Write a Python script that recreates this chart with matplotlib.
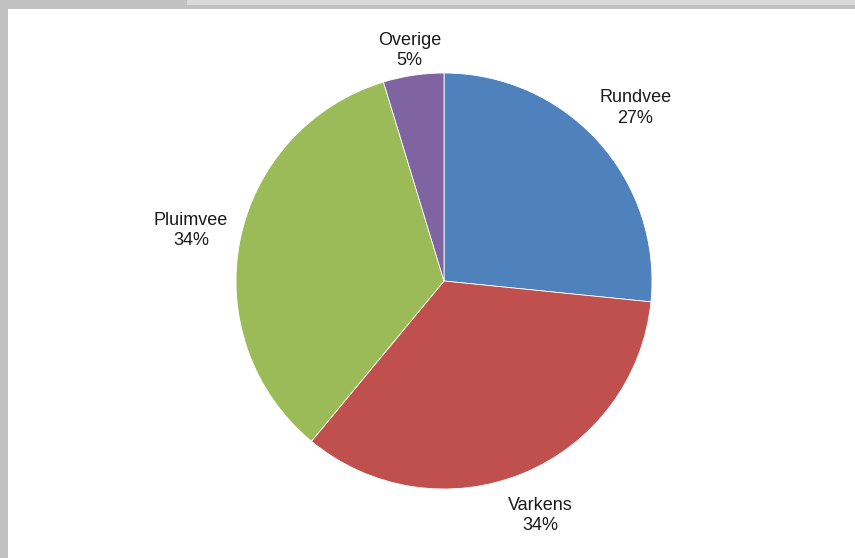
"""
Taartdiagram: verdeling naar diergroep
"""
import matplotlib.pyplot as plt
import numpy as np
from matplotlib.patches import Rectangle

# data
categories = ["Rundvee", "Varkens", "Pluimvee", "Overige"]
shares = [26.6, 34.4, 34.3, 4.7]
pct_labels = ["27%", "34%", "34%", "5%"]
colors = ["#4F81BD", "#C0504D", "#9BBB59", "#8064A2"]

# afstand van de labels tot het midden (in straal)
label_dist = [1.24, 1.22, 1.24, 1.12]

plt.rcParams["font.family"] = ["Liberation Sans Narrow", "Liberation Sans", "DejaVu Sans"]

fig = plt.figure(figsize=(8.55, 5.58), dpi=100)
fig.patch.set_facecolor("#c0c0c0")

# witte tekenvlak en (afgesneden) titelbalk bovenaan
fig.patches.append(Rectangle((8 / 855, 0), 1, 1 - 9 / 558, transform=fig.transFigure,
                             facecolor="white", edgecolor="none", zorder=0))
fig.patches.append(Rectangle((187 / 855, 1 - 5 / 558), 1, 5 / 558, transform=fig.transFigure,
                             facecolor="#d9d9d9", edgecolor="none", zorder=0))

# pie: midden (444, 281), straal 208 px
r = 208
ax = fig.add_axes([(444 - r) / 855, 1 - (281 + r) / 558, 2 * r / 855, 2 * r / 558])
ax.set_zorder(2)
wedges, _ = ax.pie(shares, colors=colors, startangle=90, counterclock=False,
                   wedgeprops=dict(edgecolor="white", linewidth=0.6))
ax.set_xlim(-1, 1)
ax.set_ylim(-1, 1)
ax.set_aspect("equal")

for w, name, pct, d in zip(wedges, categories, pct_labels, label_dist):
    mid = np.deg2rad((w.theta1 + w.theta2) / 2)
    ax.text(d * np.cos(mid), d * np.sin(mid), f"{name}\n{pct}", ha="center", va="center",
            fontsize=13, color="#1a1a1a", linespacing=1.25, clip_on=False)

fig.savefig("out.png", dpi=100, facecolor=fig.get_facecolor())
